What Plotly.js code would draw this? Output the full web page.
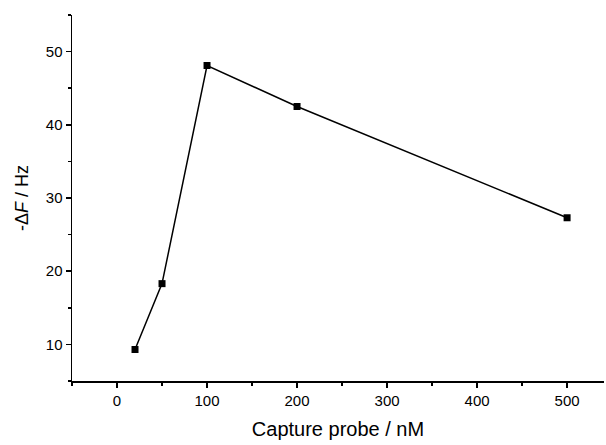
<!DOCTYPE html>
<html>
<head>
<meta charset="utf-8">
<script src="https://cdn.plot.ly/plotly-3.0.1.min.js"></script>
<style>html,body{margin:0;padding:0;background:#fff;}#chart{width:606px;height:445px;}</style>
</head>
<body>
<div id="chart"></div>
<script>
const concentrations = [20, 50, 100, 200, 500];
const deltaF = [9.3, 18.3, 48.1, 42.5, 27.3];
const xTickVals = [0, 100, 200, 300, 400, 500];
const yTickVals = [10, 20, 30, 40, 50];

const trace = {
  x: concentrations,
  y: deltaF,
  type: 'scatter',
  mode: 'lines+markers',
  line: {color: '#000', width: 1.5},
  marker: {symbol: 'square', size: 7, color: '#000'},
  cliponaxis: false
};

const layout = {
  width: 606, height: 445,
  margin: {l: 72, r: 2, t: 15, b: 64},
  paper_bgcolor: '#fff', plot_bgcolor: '#fff',
  showlegend: false,
  font: {family: 'Liberation Sans, Arial, sans-serif', color: '#000', size: 15},
  xaxis: {
    range: [-50, 541],
    tickvals: xTickVals,
    ticks: 'outside', ticklen: 5, tickwidth: 1.5, tickcolor: '#000',
    showline: true, linecolor: '#000', linewidth: 1.5,
    showgrid: false, zeroline: false,
    minor: {dtick: 50, tick0: 0, ticks: 'outside', ticklen: 3, tickwidth: 1.5, tickcolor: '#000', showgrid: false},
    tickfont: {size: 15},
    title: {text: 'Capture probe / nM', font: {size: 20}, standoff: 14}
  },
  yaxis: {
    range: [5, 55],
    tickvals: yTickVals,
    ticks: 'outside', ticklen: 5, tickwidth: 1.5, tickcolor: '#000',
    showline: true, linecolor: '#000', linewidth: 1.5,
    showgrid: false, zeroline: false,
    minor: {dtick: 5, tick0: 0, ticks: 'outside', ticklen: 3, tickwidth: 1.5, tickcolor: '#000', showgrid: false},
    tickfont: {size: 15},
    title: {text: '-Δ<i>F</i> / Hz', font: {size: 18}, standoff: 12}
  }
};

Plotly.newPlot('chart', [trace], layout, {displayModeBar: false, staticPlot: true});
</script>
</body>
</html>
